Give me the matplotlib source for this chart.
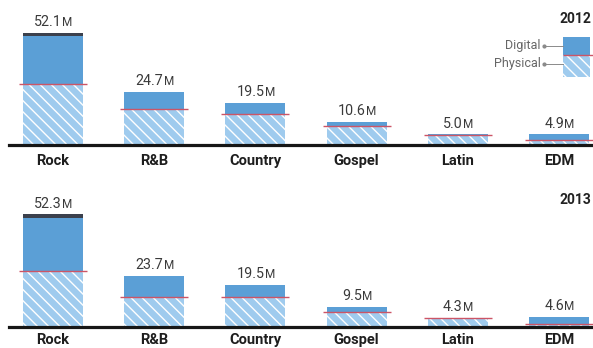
import matplotlib
matplotlib.use("Agg")
import matplotlib.pyplot as plt
from matplotlib.patches import Rectangle
import numpy as np

# data (millions of albums)
genres = ["Rock", "R&B", "Country", "Gospel", "Latin", "EDM"]
years = ["2012", "2013"]
totals_2012 = [52.1, 24.7, 19.5, 10.6, 5.0, 4.9]
physical_2012 = [28.4, 16.7, 14.5, 8.6, 4.8, 2.4]
other_2012 = [1.4, 0, 0, 0, 0, 0]
totals_2013 = [52.3, 23.7, 19.5, 9.5, 4.3, 4.6]
physical_2013 = [25.8, 13.9, 13.9, 7.0, 4.2, 1.5]
other_2013 = [1.8, 0, 0, 0, 0, 0]

W, H = 593, 348
PX_PER_M = 2.155

digital_c = "#5b9fd6"
physical_c = "#9fcbee"
cap_c = "#3b404c"
red_c = "#cc5566"

plt.rcParams["font.family"] = ["Roboto", "DejaVu Sans"]
plt.rcParams["hatch.linewidth"] = 1.0

fig = plt.figure(figsize=(W / 100, H / 100), dpi=100)


def px(x, y):
    return x / W, 1 - y / H


def panel(base_y, totals, physical, other, year, year_y, label_off):
    ax = fig.add_axes([9 / W, 1 - base_y / H, (W - 9) / W, 145 / H])
    ax.set_xlim(-0.435, 5.336)
    ax.set_ylim(0, 145 / PX_PER_M)
    ax.axis("off")
    x = np.arange(len(genres))
    tot = np.array(totals)
    phy = np.array(physical)
    oth = np.array(other)
    dig = tot - phy - oth
    w = 0.593
    ax.bar(x, phy, w, color=physical_c, edgecolor="white", linewidth=0, hatch="\\\\\\")
    ax.bar(x, dig, w, bottom=phy, color=digital_c, linewidth=0)
    ax.bar(x, oth, w, bottom=phy + dig, color=cap_c, linewidth=0)
    ax.hlines(phy, x - w / 2 - 0.04, x + w / 2 + 0.04, color=red_c, lw=1.0, zorder=3)
    ax.axhline(0, color="#161616", lw=2.3, zorder=4, clip_on=False)
    for i, g in enumerate(genres):
        num = ax.annotate(f"{tot[i]:.1f}", (x[i], tot[i]), xytext=(-3.5, 4.8),
                          textcoords="offset points", ha="center", va="baseline",
                          fontsize=10.3, color="#3a3a3a")
        ax.annotate("M", (1, 0), xycoords=num, xytext=(0.2, 0), textcoords="offset points",
                    ha="left", va="bottom", fontsize=8.5, color="#3a3a3a")
        ax.annotate(g, (x[i], 0), xytext=(0, label_off), textcoords="offset points",
                    ha="center", va="baseline", fontsize=10.5, fontweight="bold",
                    color="#1e1e1e", annotation_clip=False)
    fig.text(*px(591, year_y), year, ha="right", va="center", fontsize=10,
             fontweight="bold", color="#222222")
    return ax


panel(145, totals_2012, physical_2012, other_2012, years[0], 19, -14.2)
panel(327, totals_2013, physical_2013, other_2013, years[1], 200, -12.0)

# legend key
lx0, lx1, ly_top, ly_mid, ly_bot = 563, 590, 36.7, 55, 77.3
lax = fig.add_axes([lx0 / W, 1 - ly_bot / H, (W - lx0) / W, (ly_bot - ly_top) / H])
lax.set_xlim(0, W - lx0)
lax.set_ylim(ly_bot, ly_top)
lax.axis("off")
lax.add_patch(Rectangle((0, ly_mid), lx1 - lx0, ly_bot - ly_mid, facecolor=physical_c,
                        edgecolor="white", linewidth=0, hatch="\\\\\\"))
lax.add_patch(Rectangle((0, ly_top), lx1 - lx0, ly_mid - ly_top, facecolor=digital_c,
                        linewidth=0))
lax.hlines(ly_mid, 0, W - lx0, color=red_c, lw=1.0)

for label, yy in [("Digital", 46), ("Physical", 64)]:
    fig.text(*px(541, yy), label, ha="right", va="center", fontsize=9, color="#666666")
    fig.lines.append(plt.Line2D([544 / W, lx0 / W], [1 - yy / H] * 2, transform=fig.transFigure,
                                color="#8a8a8a", lw=0.7))
    fig.lines.append(plt.Line2D([544 / W], [1 - yy / H], transform=fig.transFigure,
                                marker="o", ms=2, color="#8a8a8a"))

fig.savefig("out.png", dpi=100)
